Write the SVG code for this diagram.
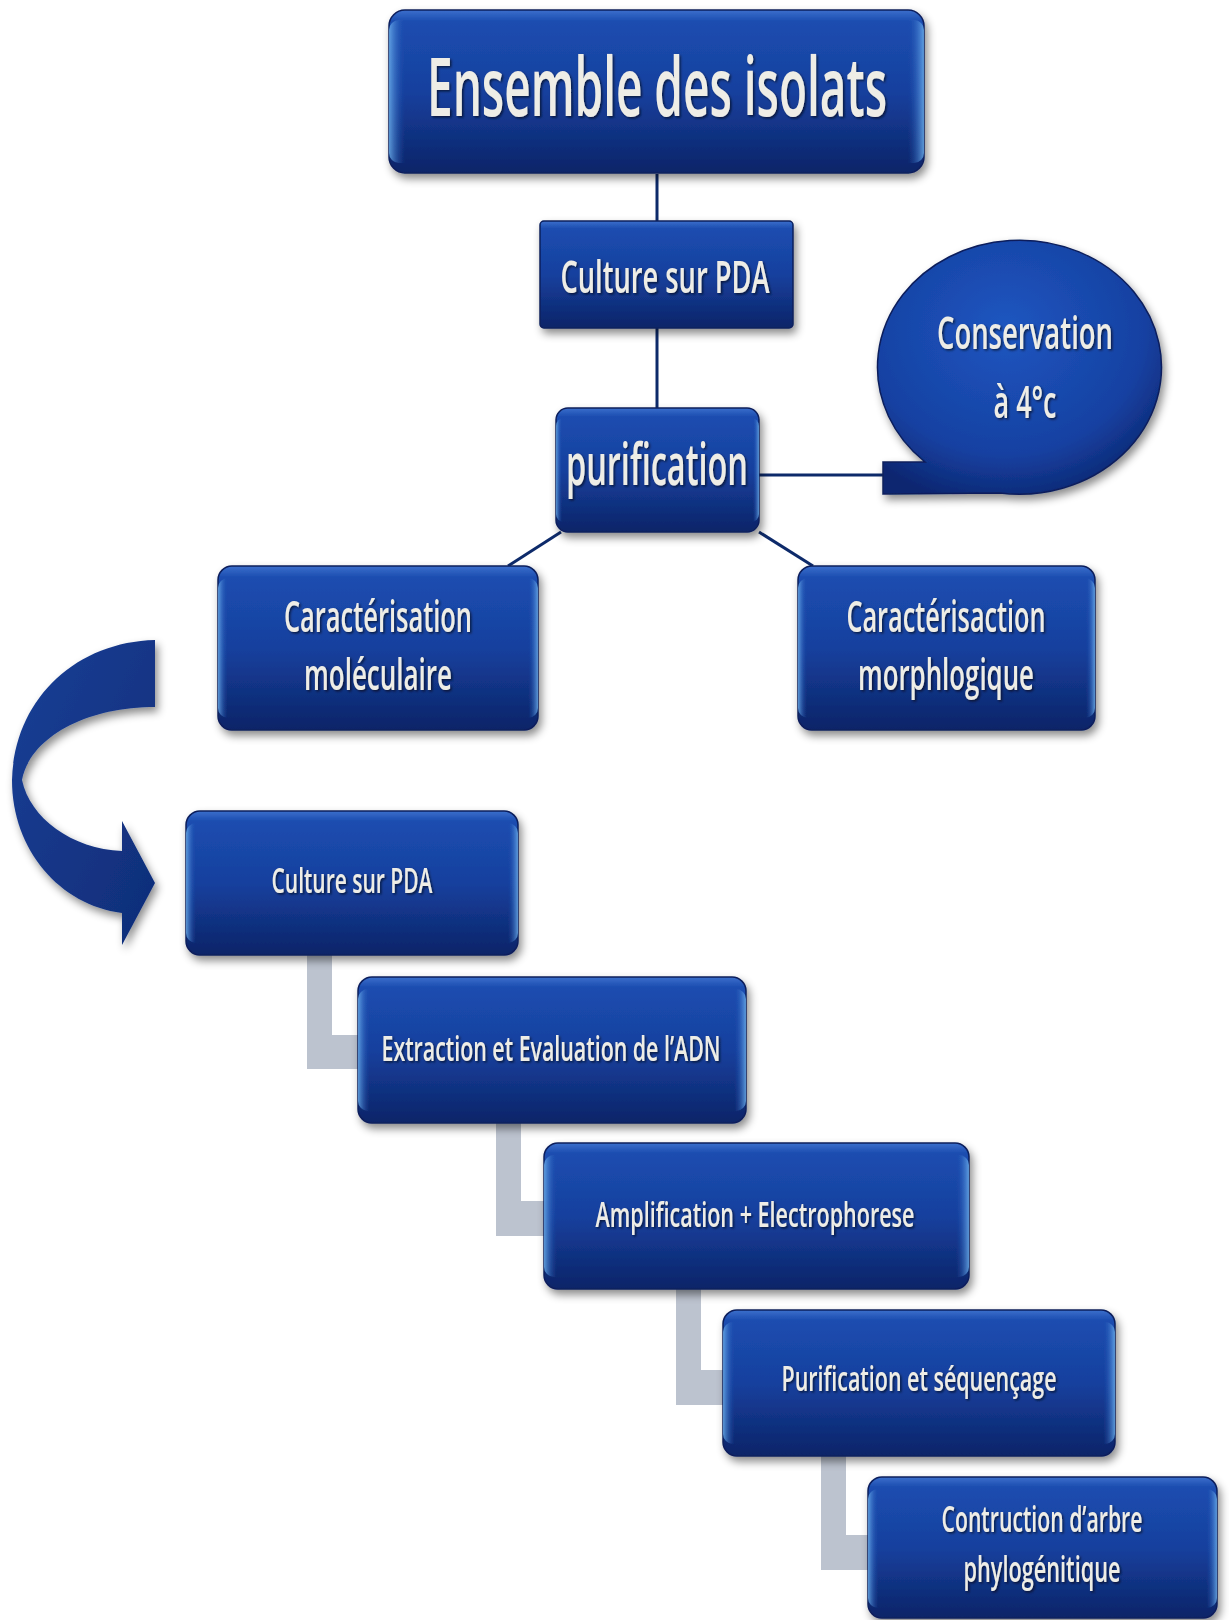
<svg xmlns="http://www.w3.org/2000/svg" width="1229" height="1620" viewBox="0 0 1229 1620">
<defs>
<linearGradient id="boxg" x1="0" y1="0" x2="0" y2="1">
<stop offset="0" stop-color="#3b6fcc"/>
<stop offset="0.07" stop-color="#1c4db0"/>
<stop offset="0.5" stop-color="#16409e"/>
<stop offset="1" stop-color="#0c2468"/>
</linearGradient>
<linearGradient id="edgeg" x1="0" y1="0" x2="1" y2="0">
<stop offset="0" stop-color="#6fb4f0"/>
<stop offset="0.03" stop-color="#1c4db0" stop-opacity="0"/>
<stop offset="0.97" stop-color="#1c4db0" stop-opacity="0"/>
<stop offset="1" stop-color="#6fb4f0"/>
</linearGradient>
<linearGradient id="arrowg" x1="0" y1="0" x2="1" y2="1">
<stop offset="0" stop-color="#1a3f96"/>
<stop offset="1" stop-color="#0f2d78"/>
</linearGradient>
<radialGradient id="bubg" cx="0.45" cy="0.35" r="0.7">
<stop offset="0" stop-color="#1e56c0"/>
<stop offset="0.7" stop-color="#1641a2"/>
<stop offset="1" stop-color="#0c2670"/>
</radialGradient>
<filter id="sh" x="-10%" y="-10%" width="125%" height="130%">
<feDropShadow dx="3" dy="5" stdDeviation="4" flood-color="#000" flood-opacity="0.45"/>
</filter>
<filter id="tsh" x="-5%" y="-20%" width="110%" height="150%">
<feDropShadow dx="1.5" dy="1.5" stdDeviation="1" flood-color="#000" flood-opacity="0.6"/>
</filter>
<style>
.box{fill:url(#boxg);stroke:#0a1f5c;stroke-width:1.5}
.edge{fill:url(#edgeg);opacity:0.8}
.t{font-family:"Open Sans","Liberation Sans",sans-serif;font-weight:600;fill:#eeede6;text-anchor:middle;filter:url(#tsh)}
.ln{stroke:#0d2a6a;stroke-width:3;fill:none}
.gr{fill:#bcc3cf}
</style>
</defs>

<g id="connectors">
<line class="ln" x1="657" y1="174" x2="657" y2="221"/>
<line class="ln" x1="657" y1="328" x2="657" y2="408"/>
<line class="ln" x1="759" y1="475" x2="885" y2="475"/>
<line class="ln" x1="561" y1="532" x2="508" y2="566"/>
<line class="ln" x1="759" y1="532" x2="813" y2="566"/>
<polygon class="gr" points="307,955 332,955 332,1035 358,1035 358,1069 307,1069"/>
<polygon class="gr" points="496,1123 521,1123 521,1201 544,1201 544,1236 496,1236"/>
<polygon class="gr" points="676,1289 701,1289 701,1370 723,1370 723,1405 676,1405"/>
<polygon class="gr" points="821,1456 846,1456 846,1535 868,1535 868,1570 821,1570"/>
<path id="curved-arrow" fill="url(#arrowg)" filter="url(#sh)" d="M155,640 C75,642 14,700 12,780 C12,850 60,905 122,913 L122,945 L155,883 L122,821 L122,851 C72,849 30,818 22,780 C30,738 85,707 155,707 Z"/>
</g>

<g id="n-ensemble" filter="url(#sh)">
<rect class="box" x="389" y="10" width="535" height="163" rx="16"/>
<rect class="edge" x="389" y="20" width="535" height="143" rx="10"/>
<text class="t" x="657" y="116" font-size="82" textLength="460" lengthAdjust="spacingAndGlyphs">Ensemble des isolats</text>
</g>

<g id="n-culture1" filter="url(#sh)">
<rect class="box" x="540" y="221" width="253" height="107" rx="4"/>
<text class="t" x="665" y="293" font-size="46" textLength="209" lengthAdjust="spacingAndGlyphs">Culture sur PDA</text>
</g>

<g id="n-purification" filter="url(#sh)">
<rect class="box" x="556" y="408" width="203" height="124" rx="12"/>
<rect class="edge" x="556" y="418" width="203" height="104" rx="8"/>
<text class="t" x="657" y="485" font-size="58" textLength="182" lengthAdjust="spacingAndGlyphs">purification</text>
</g>

<g id="n-conservation" filter="url(#sh)">
<path fill="url(#bubg)" stroke="#0a1f5c" stroke-width="1.5" d="M883,462 L925,462 A142,127 0 1 1 1000,493 L883,494 Z"/>
<text class="t" x="1025" y="349" font-size="46" textLength="176" lengthAdjust="spacingAndGlyphs">Conservation</text>
<text class="t" x="1025" y="418" font-size="46" textLength="63" lengthAdjust="spacingAndGlyphs">à 4°c</text>
</g>

<g id="n-carac-mol" filter="url(#sh)">
<rect class="box" x="218" y="566" width="320" height="164" rx="14"/>
<rect class="edge" x="218" y="578" width="320" height="140" rx="10"/>
<text class="t" x="378" y="632" font-size="44" textLength="188" lengthAdjust="spacingAndGlyphs">Caractérisation</text>
<text class="t" x="378" y="690" font-size="44" textLength="148" lengthAdjust="spacingAndGlyphs">moléculaire</text>
</g>

<g id="n-carac-morph" filter="url(#sh)">
<rect class="box" x="798" y="566" width="297" height="164" rx="14"/>
<rect class="edge" x="798" y="578" width="297" height="140" rx="10"/>
<text class="t" x="946" y="632" font-size="44" textLength="199" lengthAdjust="spacingAndGlyphs">Caractérisaction</text>
<text class="t" x="946" y="690" font-size="44" textLength="176" lengthAdjust="spacingAndGlyphs">morphlogique</text>
</g>

<g id="n-culture2" filter="url(#sh)">
<rect class="box" x="186" y="811" width="332" height="144" rx="14"/>
<rect class="edge" x="186" y="823" width="332" height="120" rx="10"/>
<text class="t" x="352" y="893" font-size="35" textLength="161" lengthAdjust="spacingAndGlyphs">Culture sur PDA</text>
</g>

<g id="n-extraction" filter="url(#sh)">
<rect class="box" x="358" y="977" width="388" height="146" rx="14"/>
<rect class="edge" x="358" y="989" width="388" height="122" rx="10"/>
<text class="t" x="551" y="1061" font-size="35" textLength="339" lengthAdjust="spacingAndGlyphs">Extraction et Evaluation de l’ADN</text>
</g>

<g id="n-amplification" filter="url(#sh)">
<rect class="box" x="544" y="1143" width="425" height="146" rx="14"/>
<rect class="edge" x="544" y="1155" width="425" height="122" rx="10"/>
<text class="t" x="755" y="1227" font-size="35" textLength="319" lengthAdjust="spacingAndGlyphs">Amplification + Electrophorese</text>
</g>

<g id="n-sequencage" filter="url(#sh)">
<rect class="box" x="723" y="1310" width="392" height="146" rx="14"/>
<rect class="edge" x="723" y="1322" width="392" height="122" rx="10"/>
<text class="t" x="919" y="1391" font-size="35" textLength="275" lengthAdjust="spacingAndGlyphs">Purification et séquençage</text>
</g>

<g id="n-arbre" filter="url(#sh)">
<rect class="box" x="868" y="1477" width="349" height="141" rx="14"/>
<rect class="edge" x="868" y="1489" width="349" height="119" rx="10"/>
<text class="t" x="1042" y="1532" font-size="36" textLength="201" lengthAdjust="spacingAndGlyphs">Contruction d’arbre</text>
<text class="t" x="1042" y="1582" font-size="36" textLength="157" lengthAdjust="spacingAndGlyphs">phylogénitique</text>
</g>
</svg>
